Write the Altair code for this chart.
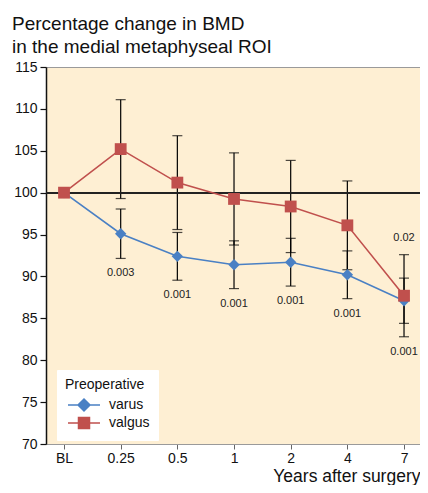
import altair as alt
import pandas as pd

years = ["BL", "0.25", "0.5", "1", "2", "4", "7"]
groups = ["varus", "valgus"]
colors = ["#4A80C4", "#C0504D"]

varus_mean = [100, 95.1, 92.4, 91.4, 91.7, 90.2, 87.1]
varus_sd = [0, 2.95, 2.85, 2.85, 2.85, 2.85, 2.7]
varus_p = ["", "0.003", "0.001", "0.001", "0.001", "0.001", "0.001"]

valgus_mean = [100, 105.2, 101.2, 99.25, 98.35, 96.1, 87.7]
valgus_sd = [0, 5.9, 5.6, 5.5, 5.5, 5.3, 4.9]
valgus_p = ["", "", "", "", "", "", "0.02"]

y_ticks = [70, 75, 80, 85, 90, 95, 100, 105, 110, 115]

rows = []
for g, means, sds, ps in [("varus", varus_mean, varus_sd, varus_p),
                          ("valgus", valgus_mean, valgus_sd, valgus_p)]:
    for yr, m, s, p in zip(years, means, sds, ps):
        rows.append(dict(year=yr, group=g, mean=m, lo=m - s, hi=m + s, sd=s, p=p))
df = pd.DataFrame(rows)
df["lowest"] = df.groupby("year")["lo"].transform("min")

FONT = "Liberation Sans"

x_enc = alt.X("year:O", sort=years,
              scale=alt.Scale(type="point", domain=years, padding=0.3, align=0.53),
              axis=alt.Axis(title="Years after surgery", labelAngle=0))
y_scale = alt.Scale(domain=[70, 115], nice=False, zero=False)
color_enc = alt.Color("group:N", scale=alt.Scale(domain=groups, range=colors), legend=None)

base = alt.Chart(df)

err = base.transform_filter("datum.sd > 0").mark_rule(color="black", strokeWidth=1.2).encode(
    x=x_enc,
    y=alt.Y("lo:Q", scale=y_scale,
            axis=alt.Axis(values=y_ticks, title=None)),
    y2="hi:Q",
)
cap_lo = base.transform_filter("datum.sd > 0").mark_tick(color="black", size=10, thickness=1.2).encode(
    x=x_enc, y=alt.Y("lo:Q", scale=y_scale))
cap_hi = base.transform_filter("datum.sd > 0").mark_tick(color="black", size=10, thickness=1.2).encode(
    x=x_enc, y=alt.Y("hi:Q", scale=y_scale))

ref = alt.Chart(df).mark_rule(color="#222222", strokeWidth=1.3).encode(y=alt.datum(100))

lines = base.mark_line(strokeWidth=1.6).encode(
    x=x_enc, y=alt.Y("mean:Q", scale=y_scale), color=color_enc, detail="group:N")

pts_varus = base.transform_filter("datum.group == 'varus'").mark_point(
    filled=True, opacity=1, shape="diamond", size=130).encode(
    x=x_enc, y=alt.Y("mean:Q", scale=y_scale), color=color_enc)
pts_valgus = base.transform_filter("datum.group == 'valgus'").mark_point(
    filled=True, opacity=1, shape="square", size=140).encode(
    x=x_enc, y=alt.Y("mean:Q", scale=y_scale), color=color_enc)

txt_varus = base.transform_filter("datum.group == 'varus' && datum.p != ''").mark_text(
    dy=15, fontSize=11, font=FONT, color="#222222").encode(
    x=x_enc, y=alt.Y("lowest:Q", scale=y_scale), text="p:N")
txt_valgus = base.transform_filter("datum.group == 'valgus' && datum.p != ''").mark_text(
    dy=-17, fontSize=11, font=FONT, color="#222222").encode(
    x=x_enc, y=alt.Y("hi:Q", scale=y_scale), text="p:N")

legend_paths = [
    "M-0.8,0H5.6M2.4,-1.2L3.6,0L2.4,1.2L1.2,0Z",
    "M-0.8,0H5.6M1.3,-1.1H3.5V1.1H1.3Z",
]
leg = alt.Legend(title="Preoperative", orient="none", legendX=11, legendY=303, symbolOpacity=1)
legend_layer = base.mark_point(filled=True, opacity=0).encode(
    x=x_enc, y=alt.Y("mean:Q", scale=y_scale),
    fill=alt.Fill("group:N", scale=alt.Scale(domain=groups, range=colors), legend=leg),
    stroke=alt.Stroke("group:N", scale=alt.Scale(domain=groups, range=colors), legend=leg),
    shape=alt.Shape("group:N", scale=alt.Scale(domain=groups, range=legend_paths), legend=leg),
)

chart = alt.layer(
    legend_layer, err, cap_lo, cap_hi, ref, lines, pts_varus, pts_valgus, txt_varus, txt_valgus
).properties(
    width=374, height=377,
    autosize=alt.AutoSizeParams(type="none"),
    padding={"left": 38, "top": 59, "right": 0, "bottom": 41},
    title=alt.TitleParams(
        text=["Percentage change in BMD", "in the medial metaphyseal ROI"],
        anchor="start", frame="group", dx=-34, fontSize=19, font=FONT,
        fontWeight="normal", color="#111111", lineHeight=23, offset=3,
    ),
).configure_view(
    fill="#FEEFD3", stroke="#9a9a9a", strokeWidth=1,
).configure_axisY(
    domainColor="#111111", domainWidth=1.5, tickColor="#111111", tickSize=6, tickWidth=1.2,
    labelFontSize=14, labelColor="#111111", labelFont=FONT, labelPadding=3, grid=False,
).configure_axisX(
    domainColor="#9a9a9a", domainWidth=1, tickColor="#666666", tickSize=5, tickWidth=1,
    labelFontSize=14, labelColor="#111111", labelFont=FONT, labelPadding=2, grid=False,
    titleFontSize=17.5, titleFont=FONT, titleFontWeight="normal", titleColor="#111111",
    titleAnchor="end", titleAlign="right", titleBaseline="alphabetic", titleY=37, titleX=374,
).configure_legend(
    fillColor="white", padding=8, strokeColor="white",
    titleFontSize=14, titleFont=FONT, titleFontWeight="normal", titleColor="#111111",
    labelFontSize=14, labelFont=FONT, labelColor="#111111",
    symbolSize=100, symbolStrokeWidth=1.5, labelOffset=30, rowPadding=0, titlePadding=6,
)

chart.save("out.html", embed_options={"renderer": "svg", "actions": False})
